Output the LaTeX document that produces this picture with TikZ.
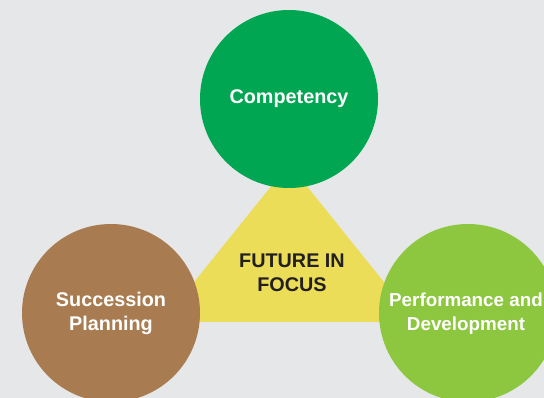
\documentclass[tikz,border=0pt]{standalone}
\usepackage{fontspec}
\setmainfont{Liberation Sans}
\definecolor{bgc}{HTML}{E6E7E8}
\definecolor{compc}{HTML}{00A651}
\definecolor{succc}{HTML}{A87C50}
\definecolor{perfc}{HTML}{8DC63F}
\definecolor{triac}{HTML}{EBDD57}
\definecolor{darktext}{HTML}{231F20}
\begin{document}
\begin{tikzpicture}[x=1pt,y=-1pt,
  bubble/.style={circle,inner sep=0pt,minimum size=178pt,text=white,align=center,
    font=\fontsize{19.8}{24}\selectfont\bfseries},
  centertext/.style={inner sep=0pt,text=darktext,align=center,
    font=\fontsize{19.8}{24}\selectfont\bfseries}]
\useasboundingbox (0,0) rectangle (544,398);
\clip (0,0) rectangle (544,398);
\fill[bgc] (0,0) rectangle (544,398);
\coordinate (tA) at (289,164);
\coordinate (tB) at (162,322);
\coordinate (tC) at (416,322);
\fill[triac] (tA) -- (tB) -- (tC) -- cycle;
\node[bubble,fill=compc] (comp) at (289,99) {Competency};
\node[bubble,fill=succc] (succ) at (111,313) {Succession\\Planning};
\node[bubble,fill=perfc,font=\fontsize{18.8}{24}\selectfont\bfseries] (perf) at (468,313) {};
\node[inner sep=0pt,text=white,align=center,font=\fontsize{18.8}{24}\selectfont\bfseries] (perftext) at (466,314) {Performance and\\Development};
\node[centertext] (focus) at (292,273) {FUTURE IN\\FOCUS};
\end{tikzpicture}
\end{document}
